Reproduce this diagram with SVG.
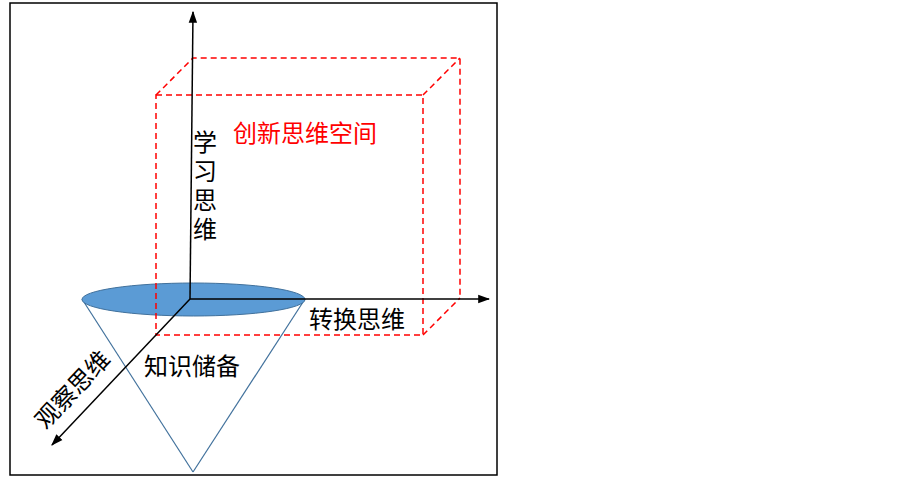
<svg xmlns="http://www.w3.org/2000/svg" width="903" height="477" viewBox="0 0 903 477">
<defs>
<style>
.txt{font-family:"Noto Sans CJK SC","Noto Sans CJK JP",sans-serif;font-size:24px;fill:#000}
.red{fill:#FF0000}
.vert{writing-mode:vertical-rl;letter-spacing:5px}
.dash{fill:none;stroke:#FF0000;stroke-width:1.5;stroke-dasharray:6 4}
.axis{fill:none;stroke:#000;stroke-width:1.5}
.cone{fill:none;stroke:#41719C;stroke-width:1.2}
</style>
<marker id="arrB" viewBox="0 0 10 10" refX="9" refY="5" markerWidth="12" markerHeight="12" orient="auto" markerUnits="userSpaceOnUse">
<path d="M0,1.5 L10,5 L0,8.5 z" fill="#000"/>
</marker>
</defs>
<rect width="903" height="477" fill="#fff"/>
<rect x="10" y="3" width="487" height="472" fill="none" stroke="#000" stroke-width="1.5"/>
<g id="cone">
<line class="cone" x1="82" y1="299" x2="193" y2="472"/>
<line class="cone" x1="305" y1="299" x2="193" y2="472"/>
<ellipse cx="193.5" cy="299.5" rx="111.5" ry="16.5" fill="#5B9BD5" stroke="#41719C" stroke-width="1"/>
</g>
<g id="box">
<rect class="dash" x="156" y="95" width="267" height="240"/>
<polyline class="dash" points="156,95 193,58 460,58 460,298"/>
<line class="dash" x1="423" y1="95" x2="460" y2="58"/>
<line class="dash" x1="423" y1="335" x2="460" y2="298"/>
</g>
<g id="connectors">
<line class="axis" x1="190" y1="299" x2="193" y2="12" marker-end="url(#arrB)"/>
<line class="axis" x1="190" y1="299" x2="489" y2="299" marker-end="url(#arrB)"/>
<line class="axis" x1="190" y1="299" x2="52" y2="445" marker-end="url(#arrB)"/>
</g>
<g id="label-innovation">
<text class="txt red" x="233" y="142">创新思维空间</text>
</g>
<g id="label-learning">
<text class="txt vert" x="205" y="130">学习思维</text>
</g>
<g id="label-transform">
<text class="txt" x="309" y="328">转换思维</text>
</g>
<g id="label-knowledge">
<text class="txt" x="144" y="375">知识储备</text>
</g>
<g id="label-observe">
<text class="txt" transform="translate(73,390) rotate(-46.6)" x="0" y="8" text-anchor="middle">观察思维</text>
</g>
</svg>
